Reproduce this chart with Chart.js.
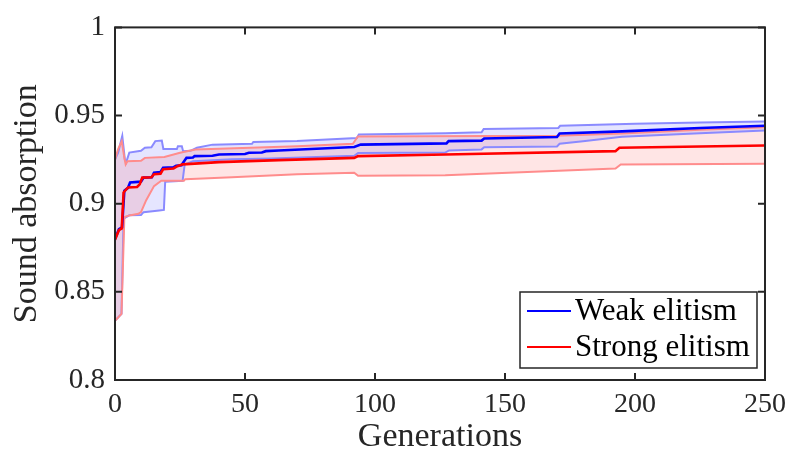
<!DOCTYPE html>
<html>
<head>
<meta charset="utf-8">
<script src="https://cdn.jsdelivr.net/npm/chart.js@4.4.1/dist/chart.umd.min.js"></script>
<style>
  html, body { margin: 0; padding: 0; background: #ffffff; }
  #wrap { width: 794px; height: 457px; }
</style>
</head>
<body>
<div id="wrap"><canvas id="c" width="794" height="457"></canvas></div>
<script>
// ---- data (generation, sound absorption) ----
const xTicks = [0, 50, 100, 150, 200, 250];
const yTicks = [0.8, 0.85, 0.9, 0.95, 1];
const seriesNames = ['Weak elitism', 'Strong elitism'];

const weakMax = [[0,0.925],[1.2,0.929],[2.8,0.9385],[3.8,0.925],[4.3,0.9235],[5.5,0.929],[10,0.930],[11.5,0.9317],[14,0.932],[15.5,0.9355],[18,0.9358],[18.6,0.931],[23.8,0.931],[24.2,0.9326],[25.7,0.9326],[26.2,0.9298],[29,0.930],[31.5,0.9317],[37.5,0.9335],[52.7,0.934],[53.2,0.935],[70,0.9355],[93,0.9373],[93.8,0.9393],[127,0.940],[141,0.9405],[141.8,0.9424],[170.5,0.943],[171.2,0.9442],[200,0.9453],[225,0.946],[250,0.9466]];
const weakMean = [[0,0.880],[1.5,0.8855],[2.7,0.8865],[3.6,0.9074],[5,0.909],[5.8,0.912],[10,0.9125],[11,0.9148],[14.2,0.915],[15,0.9176],[17.5,0.918],[18.5,0.9204],[22.4,0.9206],[23.5,0.9215],[25.6,0.9218],[26.2,0.9232],[27.5,0.926],[30,0.9262],[30.6,0.927],[37.5,0.9272],[40,0.9279],[50,0.9282],[51.5,0.9289],[56.5,0.929],[58,0.9298],[63,0.9302],[92,0.9322],[94.5,0.9335],[127.5,0.9342],[128.3,0.9355],[141,0.9358],[142,0.937],[170,0.9378],[171,0.9398],[195,0.941],[225,0.9429],[250,0.9442]];
const weakMin = [[0,0.8336],[2.5,0.8375],[3.3,0.8915],[5.5,0.8934],[10,0.8936],[11,0.8952],[17,0.8962],[18.8,0.8965],[19.3,0.9125],[26,0.913],[26.8,0.9223],[30,0.9241],[45,0.9252],[60,0.9256],[92,0.9272],[93.5,0.9287],[127,0.929],[128.5,0.9302],[141,0.9308],[142,0.932],[170,0.9325],[171,0.934],[180,0.9354],[195,0.938],[225,0.940],[250,0.9415]];

const strongMax = [[0,0.925],[1.2,0.931],[2.6,0.9354],[3.6,0.926],[4.1,0.9223],[4.8,0.9241],[10,0.9243],[11.5,0.926],[19,0.9265],[25,0.9289],[31,0.9307],[70,0.9326],[91.5,0.934],[93.4,0.9381],[170,0.9386],[195,0.9398],[225,0.942],[250,0.9434]];
const strongMean = [[0,0.8795],[1.5,0.885],[2.6,0.886],[3.3,0.9064],[5,0.9092],[8.5,0.9095],[9.5,0.911],[10.5,0.9148],[14,0.915],[15,0.9167],[17.5,0.917],[18.5,0.9195],[22.5,0.920],[24,0.9213],[26,0.9223],[40,0.9236],[63,0.9247],[92,0.926],[93.5,0.927],[127,0.9279],[192.5,0.9298],[194,0.9317],[250,0.933]];
const strongMin = [[0,0.8336],[2.5,0.8375],[3.6,0.8924],[6,0.8935],[9,0.8943],[10,0.8952],[12,0.902],[15,0.910],[17.8,0.913],[26.5,0.913],[27,0.9139],[45,0.915],[70,0.9167],[92,0.9176],[93.5,0.9158],[127,0.9162],[192.5,0.920],[194.5,0.9223],[250,0.9227]];

// ---- styling ----
const INK = '#262626';
const FONT = '"Liberation Serif", "Times New Roman", serif';
const toPts = arr => arr.map(p => ({x: p[0], y: p[1]}));

function edge(data, color, fillTarget, fillColor, order) {
  return {
    data: toPts(data),
    borderColor: color,
    borderWidth: 2,
    pointRadius: 0,
    tension: 0,
    order: order,
    backgroundColor: fillColor || 'transparent',
    fill: fillTarget === undefined ? false : {target: fillTarget, above: fillColor, below: fillColor}
  };
}

const datasets = [
  edge(weakMax, '#8a8aff', 1, 'rgba(0,0,255,0.1)', 5),
  edge(weakMin, '#8a8aff', undefined, null, 4),
  edge(strongMax, '#ff8c8c', 3, 'rgba(255,0,0,0.1)', 3),
  edge(strongMin, '#ff8c8c', undefined, null, 2),
  { data: toPts(weakMean), borderColor: '#0000ff', borderWidth: 2.6, pointRadius: 0, tension: 0, fill: false, order: 1 },
  { data: toPts(strongMean), borderColor: '#ff0000', borderWidth: 2.6, pointRadius: 0, tension: 0, fill: false, order: 0 }
];

const frameAndLegend = {
  id: 'frameAndLegend',
  afterDatasetsDraw(chart) {
    const {ctx, chartArea: a, scales} = chart;
    ctx.save();
    ctx.strokeStyle = INK;
    ctx.lineWidth = 2;
    ctx.strokeRect(a.left, a.top, a.right - a.left, a.bottom - a.top);
    const tl = 7;
    ctx.beginPath();
    xTicks.forEach(v => {
      const px = scales.x.getPixelForValue(v);
      ctx.moveTo(px, a.bottom); ctx.lineTo(px, a.bottom - tl);
      ctx.moveTo(px, a.top); ctx.lineTo(px, a.top + tl);
    });
    yTicks.forEach(v => {
      const py = scales.y.getPixelForValue(v);
      ctx.moveTo(a.left, py); ctx.lineTo(a.left + tl, py);
      ctx.moveTo(a.right, py); ctx.lineTo(a.right - tl, py);
    });
    ctx.stroke();

    // legend box (inside plot, bottom right)
    const bx = 520, by = 292, bw = 237, bh = 76;
    ctx.fillStyle = '#ffffff';
    ctx.fillRect(bx, by, bw, bh);
    ctx.lineWidth = 1.5;
    ctx.strokeStyle = INK;
    ctx.strokeRect(bx, by, bw, bh);
    const rows = [{c: '#0000ff', y: by + 19}, {c: '#ff0000', y: by + 55}];
    ctx.font = '31px ' + FONT;
    ctx.textBaseline = 'middle';
    ctx.textAlign = 'left';
    rows.forEach((r, i) => {
      ctx.strokeStyle = r.c;
      ctx.lineWidth = 2;
      ctx.beginPath();
      ctx.moveTo(bx + 7, r.y); ctx.lineTo(bx + 51, r.y);
      ctx.stroke();
      ctx.fillStyle = '#000000';
      ctx.fillText(seriesNames[i], bx + 55, r.y + 1);
    });
    ctx.restore();
  }
};

new Chart(document.getElementById('c'), {
  type: 'line',
  data: { datasets },
  options: {
    responsive: false,
    animation: false,
    devicePixelRatio: 1,
    layout: { padding: { left: 0, top: 23, right: 24, bottom: 0 } },
    plugins: {
      legend: { display: false },
      tooltip: { enabled: false },
      filler: { drawTime: 'beforeDatasetsDraw' }
    },
    scales: {
      x: {
        type: 'linear', min: 0, max: 250,
        grid: { display: false, drawTicks: false },
        border: { display: false },
        afterBuildTicks: s => { s.ticks = xTicks.map(v => ({value: v})); },
        afterFit: s => { s.height = 77; },
        ticks: { color: INK, font: { family: FONT, size: 28 }, padding: 8, maxRotation: 0 },
        title: { display: true, text: 'Generations', color: INK, font: { family: FONT, size: 34 }, padding: { top: 0, bottom: 0 } }
      },
      y: {
        type: 'linear', min: 0.8, max: 1,
        grid: { display: false, drawTicks: false },
        border: { display: false },
        afterBuildTicks: s => { s.ticks = yTicks.map(v => ({value: v})); },
        afterFit: s => { s.width = 115; },
        ticks: { color: INK, font: { family: FONT, size: 29 }, padding: 10,
                 callback: v => String(+Number(v).toFixed(2)) },
        title: { display: true, text: 'Sound absorption', color: INK, font: { family: FONT, size: 34 }, padding: { top: 7, bottom: 0 } }
      }
    }
  },
  plugins: [frameAndLegend]
});
</script>
</body>
</html>
